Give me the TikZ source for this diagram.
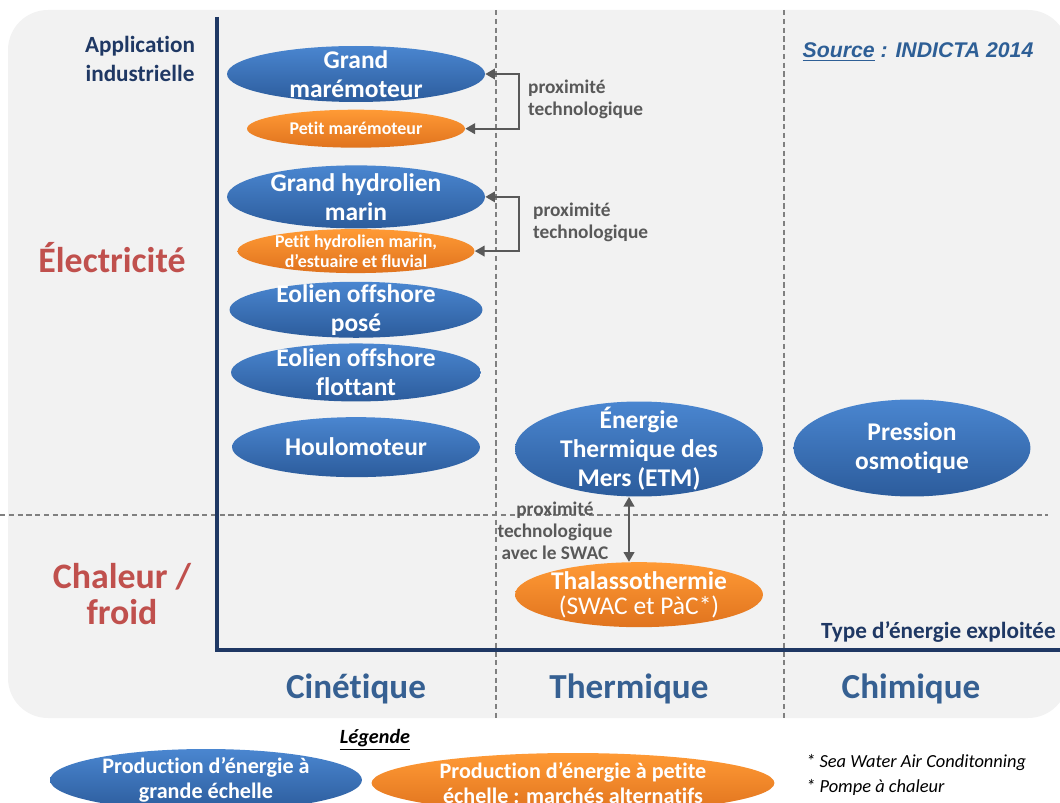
\documentclass[tikz,border=0pt]{standalone}
\usepackage{fontspec}
\setmainfont{Carlito}[Ligatures=CommonOff]
\newfontfamily\arialfont{Liberation Sans}
\usetikzlibrary{calc, shapes, arrows.meta, positioning}

\definecolor{bleuhaut}{HTML}{4A86D0}
\definecolor{bleubas}{HTML}{2C5C9C}
\definecolor{orangehaut}{HTML}{FF9A35}
\definecolor{orangebas}{HTML}{E0731E}
\definecolor{marine}{HTML}{1F3864}
\definecolor{rouge}{HTML}{C0504D}
\definecolor{bleuaxe}{HTML}{366092}
\definecolor{bleusource}{HTML}{2E5F96}
\definecolor{gristexte}{HTML}{595959}
\definecolor{fond}{HTML}{F2F2F2}

\begin{document}
\begin{tikzpicture}[
    x=0.02cm, y=-0.02cm,
    node distance=0.14cm,
    grande/.style={ellipse, top color=bleuhaut, bottom color=bleubas, text=white, align=center, inner sep=-1cm, font=\bfseries\fontsize{14.5}{16.5}\selectfont},
    petite/.style={ellipse, top color=orangehaut, bottom color=orangebas, text=white, align=center, inner sep=-1cm, font=\bfseries\fontsize{10.2}{11.5}\selectfont},
    proxarrow/.style={{Triangle[length=5.5pt,width=6pt]}-{Triangle[length=5.5pt,width=6pt]}, draw=gristexte, fill=none, line width=1.1pt},
    proxlabel/.style={text=gristexte, font=\bfseries\fontsize{11}{12.5}\selectfont},
    titre/.style={text=marine, font=\bfseries\fontsize{13.2}{16}\selectfont},
    categorie/.style={text=rouge, font=\bfseries\fontsize{20.4}{20}\selectfont, align=center},
    colonne/.style={text=bleuaxe, font=\bfseries\fontsize{20}{24}\selectfont},
    separation/.style={draw=gray, line width=0.7pt, dash pattern=on 3pt off 2pt},
    axe/.style={draw=marine, line width=2.3pt},
    note/.style={font=\itshape\fontsize{10.5}{12}\selectfont, anchor=west}
  ]
  \useasboundingbox (0,0) rectangle (1060,803);
  \fill[fond, rounded corners=0.8cm] (8,10) rectangle (1068,718);

  % grille
  \draw[separation] (496,10) -- (496,718);
  \draw[separation] (784,10) -- (784,718);
  \draw[separation] (0,515) -- (1048,515);
  \draw[axe] (217,17) |- (1060,650);

  % cinetique
  \node[grande, minimum width=5.16cm, minimum height=1.12cm] (grandmare) at (356,74) {Grand\\marémoteur};
  \node[petite, minimum width=4.36cm, minimum height=0.76cm, below=of grandmare] (petitmare) {Petit marémoteur};
  \node[grande, minimum width=5.16cm, minimum height=1.26cm, below=0.34cm of petitmare] (grandhydro) {Grand hydrolien\\marin};
  \node[petite, minimum width=4.74cm, minimum height=0.88cm, below=0cm of grandhydro] (petithydro) {Petit hydrolien marin,\\d’estuaire et fluvial};
  \node[grande, minimum width=5.06cm, minimum height=1.12cm, below=0.16cm of petithydro] (eolpose) {Eolien offshore\\posé};
  \node[grande, minimum width=5.0cm, minimum height=1.16cm, below=0.1cm of eolpose] (eolflot) {Eolien offshore\\flottant};
  \node[grande, minimum width=4.96cm, minimum height=1.2cm, below=0.3cm of eolflot] (houlo) {Houlomoteur};

  % thermique et chimique
  \node[grande, minimum width=4.96cm, minimum height=1.9cm] (etm) at (639,449) {Énergie\\Thermique des\\Mers (ETM)};
  \node[grande, minimum width=4.74cm, minimum height=1.94cm] (pression) at (912,448) {Pression\\osmotique};
  \node[petite, minimum width=4.96cm, minimum height=1.3cm, below=1.3cm of etm, font=\fontsize{14.5}{14.2}\selectfont] (thalasso) {\textbf{Thalassothermie}\\(SWAC et PàC*)};

  % proximite
  \draw[proxarrow] (grandmare.east) -- ++(34,0) |- (petitmare.east);
  \draw[proxarrow] (grandhydro.east) -- ++(34,0) |- (petithydro.east);
  \draw[proxarrow] ([xshift=-0.2cm]etm.south) -- ([xshift=-0.2cm]thalasso.north);
  \node[proxlabel, anchor=west, align=left] (prox1) at (522,99) {proximité\\technologique};
  \node[proxlabel, anchor=west, align=left] (prox2) at (527,222) {proximité\\technologique};
  \node[proxlabel, align=center] (prox3) at (555,531) {proximité\\technologique\\avec le SWAC};

  % axes
  \node[titre, align=center] (appli) at (140,59) {Application\\industrielle};
  \node[categorie] (elec) at (112,258) {Électricité};
  \node[categorie] (chaleur) at (122,594) {Chaleur /\\froid};
  \node[titre, anchor=east] (type) at (1062,632) {Type d’énergie exploitée};
  \node[colonne] (cine) at (356,689) {Cinétique};
  \node[colonne] (therm) at (629,689) {Thermique};
  \node[colonne] (chim) at (911,689) {Chimique};
  \node[text=bleusource, font=\arialfont\bfseries\itshape\fontsize{12.1}{14}\selectfont] (source) at (918,52) {\underline{Source} : INDICTA 2014};

  % legende
  \node[font=\bfseries\itshape\fontsize{11.5}{14}\selectfont] (legende) at (375,740) {\underline{Légende}};
  \node[grande, minimum width=6.24cm, minimum height=1.24cm, font=\bfseries\fontsize{12.6}{14.5}\selectfont] (legbleu) at (206,780) {Production d’énergie à\\grande échelle};
  \node[petite, minimum width=8.06cm, minimum height=1.2cm, font=\bfseries\fontsize{12.6}{14.5}\selectfont] (legorange) at (573,783) {Production d’énergie à petite\\échelle : marchés alternatifs};
  \node[note] (note1) at (800,763) {* Sea Water Air Conditonning};
  \node[note] (note2) at (800,787) {* Pompe à chaleur};
\end{tikzpicture}
\end{document}
